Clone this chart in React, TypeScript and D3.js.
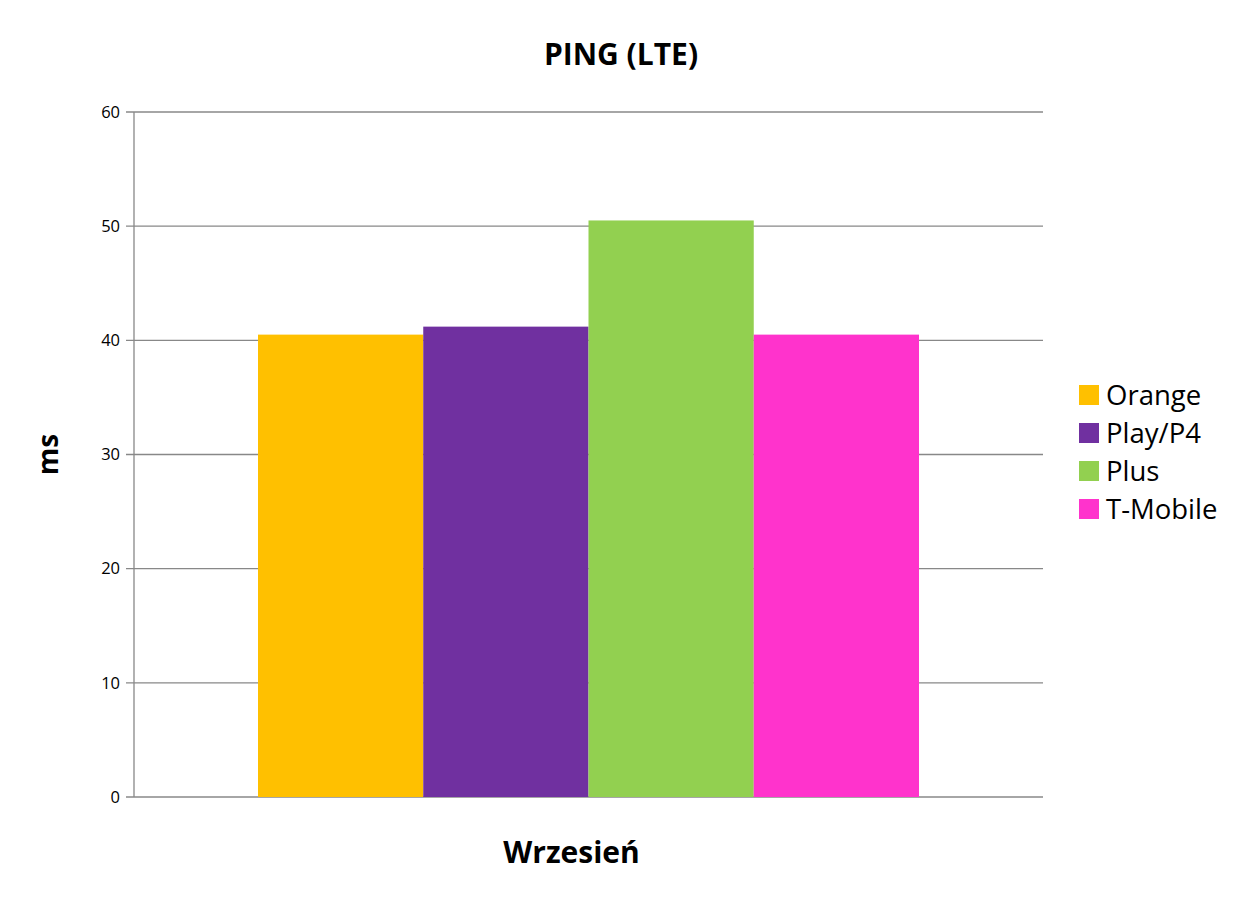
import React from "react";
import * as d3 from "d3";

const categories = ["Wrzesień"];
const seriesNames = ["Orange", "Play/P4", "Plus", "T-Mobile"];
const seriesColors = ["#FFC000", "#7030A0", "#92D050", "#FF33CC"];
const seriesValues = [[40.5], [41.2], [50.5], [40.5]];
const yTicks = [0, 10, 20, 30, 40, 50, 60];

const W = 1246;
const H = 907;
const M = { left: 134, right: 1043, top: 112, bottom: 797 };
const FONT = "'Open Sans', 'Noto Sans', sans-serif";

export default function App() {
  const y = d3.scaleLinear().domain([0, 60]).range([M.bottom, M.top]);
  const x0 = d3.scaleBand().domain(categories).range([M.left, M.right]).paddingInner(0).paddingOuter(0.1876);
  const x1 = d3.scaleBand().domain(seriesNames).range([0, x0.bandwidth()]).padding(0);

  return (
    <svg width={W} height={H} style={{ position: "absolute", left: 0, top: 0, background: "#fff" }}>
      <rect x={0} y={0} width={W} height={H} fill="#fff" />
      <text x={621} y={65} textAnchor="middle" fontFamily={FONT} fontWeight="bold" fontSize={30} fill="#000">
        PING (LTE)
      </text>
      {yTicks.map((t) => (
        <g key={t}>
          <line x1={M.left - 8} x2={M.right} y1={y(t)} y2={y(t)} stroke="#888" strokeWidth={1.3} />
          <text x={M.left - 14} y={y(t)} dy="0.35em" textAnchor="end" fontFamily={FONT} fontSize={16.5} fill="#000">
            {t}
          </text>
        </g>
      ))}
      {categories.map((c, ci) => (
        <g key={c}>
          {seriesNames.map((s, si) => (
            <rect
              key={s}
              x={(x0(c) as number) + (x1(s) as number)}
              y={y(seriesValues[si][ci])}
              width={x1.bandwidth()}
              height={y(0) - y(seriesValues[si][ci])}
              fill={seriesColors[si]}
            />
          ))}
          <text
            x={(x0(c) as number) + x0.bandwidth() / 2 - 17}
            y={863}
            textAnchor="middle"
            fontFamily={FONT}
            fontWeight="bold"
            fontSize={30}
            fill="#000"
          >
            {c}
          </text>
        </g>
      ))}
      <line x1={M.left} x2={M.left} y1={M.top} y2={M.bottom} stroke="#888" strokeWidth={1.3} />
      <text
        transform={`translate(58, ${(M.top + M.bottom) / 2}) rotate(-90)`}
        textAnchor="middle"
        fontFamily={FONT}
        fontWeight="bold"
        fontSize={28}
        fill="#000"
      >
        ms
      </text>
      {seriesNames.map((s, i) => (
        <g key={s} transform={`translate(1079, ${385 + i * 38})`}>
          <rect x={0} y={0} width={20} height={20} fill={seriesColors[i]} />
          <text x={27} y={10} dy="0.35em" fontFamily={FONT} fontSize={27.5} fill="#000">
            {s}
          </text>
        </g>
      ))}
    </svg>
  );
}
